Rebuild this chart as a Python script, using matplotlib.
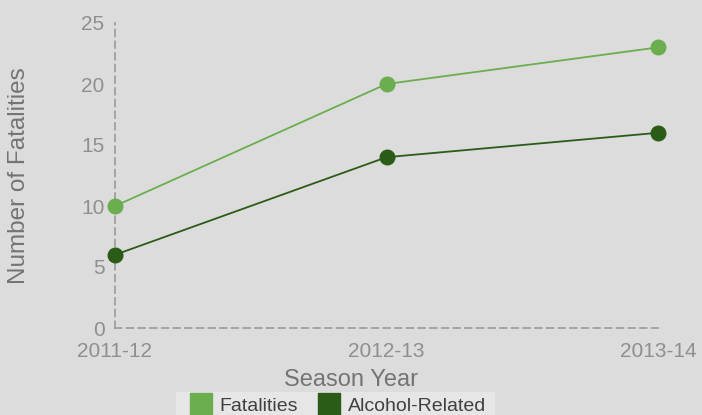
import matplotlib
matplotlib.use("Agg")
import matplotlib.pyplot as plt
from matplotlib.lines import Line2D
from matplotlib.patches import Rectangle

seasons = ["2011-12", "2012-13", "2013-14"]
fatalities = [10, 20, 23]
alcohol_related = [6, 14, 16]
yticks = [0, 5, 10, 15, 20, 25]

light = "#6aae4f"
dark = "#2a5c17"
bg = "#dcdcdc"
gray = "#8f8f8f"
labelgray = "#747474"

plt.rcParams['font.family'] = ['Liberation Sans', 'DejaVu Sans']

fig = plt.figure(figsize=(7.02, 4.15), dpi=100, facecolor=bg)
ax = fig.add_axes([115/702, (415-328)/415, (658-115)/702, (328-23)/415])
ax.set_facecolor(bg)

x = list(range(len(seasons)))
ax.plot(x, fatalities, color=light, lw=1.3, marker='o', ms=10.5, clip_on=False, zorder=3)
ax.plot(x, alcohol_related, color=dark, lw=1.3, marker='o', ms=10.5, clip_on=False, zorder=3)

ax.set_xlim(0, len(seasons) - 1)
ax.set_ylim(0, 25)
ax.set_xticks(x)
ax.set_xticklabels(seasons)
ax.set_yticks(yticks)
ax.tick_params(length=0, labelsize=15, labelcolor=gray)
ax.tick_params(axis='x', pad=10)
ax.tick_params(axis='y', pad=7.5)

for s in ['top', 'right']:
    ax.spines[s].set_visible(False)
for s in ['left', 'bottom']:
    ax.spines[s].set_color("#9a9a9a")
    ax.spines[s].set_linewidth(1.2)
    ax.spines[s].set_linestyle((0, (4, 3)))

ax.set_xlabel("Season Year", fontsize=17, color=labelgray)
ax.xaxis.set_label_coords((351-115)/543, -0.134)
ax.set_ylabel("Number of Fatalities", fontsize=17.5, color=labelgray, va='center')
ax.yaxis.set_label_coords((19-115)/543, 0.5)

fs = 14
em = fs * 100 / 72
handles = [Line2D([], [], ls='none', marker='s', ms=16, color=light),
           Line2D([], [], ls='none', marker='s', ms=16, color=dark)]
leg = fig.legend(handles, ["Fatalities", "Alcohol-Related"], loc='center',
                 bbox_to_anchor=(338/702, 1 - 406/415), ncol=2, frameon=False,
                 fontsize=fs, handletextpad=8/em, columnspacing=20/em,
                 handlelength=22/em, borderpad=0.0, borderaxespad=0.0)
for t in leg.get_texts():
    t.set_color("#404040")

fig.canvas.draw()
r = fig.canvas.get_renderer()
inv = fig.transFigure.inverted()
for h, t in zip(leg.legend_handles, leg.get_texts()):
    hb = h.get_window_extent(r)
    tb = t.get_window_extent(r)
    x0 = min(hb.x0, tb.x0) - 3
    x1 = max(hb.x1, tb.x1) + 9
    y0 = 0
    y1 = 415 - 392
    (fx0, fy0) = inv.transform((x0, y0))
    (fx1, fy1) = inv.transform((x1, y1))
    fig.patches.append(Rectangle((fx0, fy0), fx1 - fx0, fy1 - fy0,
                                 transform=fig.transFigure, facecolor="#e6e6e6",
                                 edgecolor='none', zorder=0))

fig.savefig("out.png", dpi=100, facecolor=bg)
